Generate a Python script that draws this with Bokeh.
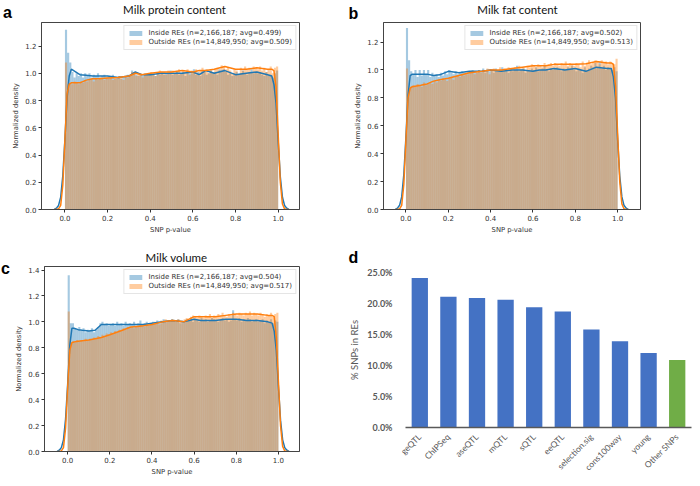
from math import pi
from bokeh.plotting import figure
from bokeh.models import (ColumnDataSource, Label, Legend, LegendItem, FixedTicker,
                          PrintfTickFormatter, Range1d, FactorRange)
from bokeh.layouts import column, row
from bokeh.embed import file_html
from bokeh.resources import INLINE

# ---------------- data ----------------
N_BINS = 100

TITLES = ["Milk protein content", "Milk fat content", "Milk volume"]
LETTERS = ["a", "b", "c", "d"]

IN_LABELS = ["Inside REs (n=2,166,187; avg=0.499)",
             "Inside REs (n=2,166,187; avg=0.502)",
             "Inside REs (n=2,166,187; avg=0.504)"]
OUT_LABELS = ["Outside REs (n=14,849,950; avg=0.509)",
              "Outside REs (n=14,849,950; avg=0.513)",
              "Outside REs (n=14,849,950; avg=0.517)"]

a_in_hist = [1.32, 1.15, 1.08, 1.01, 0.97, 1.00, 0.98, 1.00, 0.97, 1.00,
             0.98, 1.00, 0.97, 0.99, 0.98, 1.00, 0.97, 0.98, 0.99, 0.97,
             0.98, 0.97, 0.99, 0.96, 0.97, 0.98, 0.96, 0.97, 0.98, 0.99,
             0.98, 1.02, 1.01, 0.99, 0.98, 0.99, 0.98, 1.00, 0.99, 0.99,
             1.00, 0.99, 0.98, 1.00, 0.99, 1.01, 0.99, 1.00, 1.00, 1.02,
             0.99, 1.00, 1.01, 0.99, 1.00, 1.01, 0.98, 1.01, 1.00, 1.00,
             1.03, 0.99, 1.01, 0.98, 1.02, 1.01, 0.99, 1.00, 1.02, 1.00,
             1.01, 0.99, 1.03, 1.02, 1.03, 1.01, 0.99, 1.00, 0.98, 1.00,
             1.01, 0.99, 1.00, 1.02, 1.00, 0.99, 1.01, 1.03, 1.00, 1.01,
             1.00, 1.01, 0.99, 0.98, 1.01, 0.98, 0.99, 0.97, 1.00, 1.02]
a_out_hist = [1.08, 0.92, 0.93, 0.92, 0.94, 0.93, 0.92, 0.94, 0.93, 0.95,
              0.94, 0.95, 0.96, 0.94, 0.96, 0.95, 0.97, 0.96, 0.95, 0.97,
              0.96, 0.97, 0.95, 0.97, 0.96, 0.98, 0.97, 0.95, 0.98, 0.97,
              0.99, 1.01, 1.00, 0.98, 0.99, 1.00, 0.97, 0.99, 1.00, 0.99,
              1.01, 1.00, 0.98, 1.01, 1.02, 1.00, 1.01, 0.99, 1.02, 1.01,
              1.02, 1.00, 1.01, 1.03, 1.00, 1.02, 1.01, 1.03, 0.99, 1.02,
              1.01, 1.03, 1.00, 1.02, 1.04, 1.01, 1.03, 1.00, 1.02, 1.01,
              1.03, 1.04, 1.02, 1.06, 1.05, 1.03, 1.04, 1.02, 1.00, 1.03,
              1.02, 0.99, 1.04, 1.02, 1.05, 1.03, 1.04, 1.01, 1.05, 1.04,
              1.03, 1.05, 1.02, 1.04, 1.01, 1.03, 1.05, 1.00, 1.04, 1.05]
b_in_hist = [1.30, 1.07, 0.99, 0.97, 1.00, 0.95, 1.00, 0.96, 1.00, 0.97,
             1.00, 0.95, 0.98, 0.96, 0.97, 0.95, 0.98, 0.96, 0.99, 0.97,
             1.00, 0.98, 0.97, 0.99, 0.97, 0.98, 0.99, 0.98, 0.97, 0.99,
             0.98, 1.00, 0.99, 0.98, 1.00, 0.99, 1.01, 0.98, 1.00, 0.99,
             1.00, 0.98, 1.01, 0.99, 1.00, 1.02, 0.99, 1.00, 0.98, 1.01,
             0.99, 1.00, 1.03, 0.99, 1.00, 1.01, 0.98, 1.00, 0.99, 1.01,
             1.00, 1.02, 0.99, 1.00, 1.01, 1.03, 1.00, 0.99, 1.01, 1.00,
             1.01, 1.02, 1.00, 0.99, 1.01, 1.00, 1.02, 1.01, 1.03, 1.00,
             0.99, 1.01, 1.00, 0.98, 1.02, 1.00, 1.01, 1.03, 1.02, 1.05,
             1.02, 1.06, 1.01, 1.03, 1.00, 1.02, 1.01, 1.00, 1.02, 0.99]
b_out_hist = [1.01, 0.87, 0.88, 0.89, 0.88, 0.90, 0.89, 0.88, 0.91, 0.89,
              0.90, 0.91, 0.90, 0.92, 0.91, 0.93, 0.92, 0.94, 0.93, 0.92,
              0.94, 0.95, 0.93, 0.95, 0.96, 0.95, 0.97, 0.96, 0.98, 0.97,
              0.98, 0.99, 0.97, 0.99, 1.00, 0.98, 1.00, 0.99, 1.01, 0.97,
              1.00, 1.01, 0.99, 1.00, 1.02, 1.00, 1.01, 0.99, 1.02, 1.01,
              1.01, 1.02, 1.00, 1.03, 1.01, 1.02, 0.99, 1.03, 1.02, 1.04,
              1.03, 1.02, 1.04, 1.03, 1.02, 1.05, 1.03, 1.04, 1.05, 1.03,
              1.05, 1.04, 1.03, 1.05, 1.04, 1.06, 1.03, 1.05, 1.04, 1.03,
              1.05, 1.04, 1.02, 1.06, 1.03, 1.05, 1.07, 1.04, 1.05, 1.07,
              1.06, 1.04, 1.07, 1.05, 1.06, 1.04, 1.06, 1.05, 1.04, 1.08]
c_in_hist = [1.36, 0.99, 0.99, 0.95, 0.94, 0.96, 0.93, 0.95, 0.92, 0.94,
             0.93, 0.95, 0.92, 0.94, 0.96, 0.99, 1.00, 0.98, 0.99, 0.97,
             0.98, 0.99, 0.97, 1.00, 0.98, 0.99, 0.97, 1.00, 0.98, 0.99,
             0.98, 1.00, 0.97, 0.99, 1.01, 0.98, 0.99, 1.00, 0.98, 0.99,
             1.00, 0.99, 1.01, 1.00, 0.99, 1.02, 1.00, 1.01, 1.00, 1.02,
             1.01, 1.00, 1.02, 0.99, 1.01, 1.00, 1.02, 1.01, 1.03, 1.00,
             1.02, 1.01, 1.00, 1.03, 1.01, 1.02, 1.00, 1.01, 1.03, 1.02,
             1.01, 1.00, 1.02, 1.03, 1.01, 1.02, 1.00, 1.01, 1.09, 1.02,
             1.01, 1.03, 1.00, 1.02, 1.01, 1.03, 1.02, 1.00, 1.01, 1.02,
             1.00, 1.01, 1.02, 0.99, 1.01, 1.00, 1.02, 0.99, 1.01, 1.00]
c_out_hist = [1.08, 0.84, 0.85, 0.84, 0.86, 0.85, 0.86, 0.85, 0.87, 0.86,
              0.87, 0.86, 0.88, 0.87, 0.89, 0.88, 0.90, 0.89, 0.91, 0.90,
              0.92, 0.91, 0.93, 0.92, 0.94, 0.93, 0.95, 0.94, 0.96, 0.95,
              0.96, 0.95, 0.97, 0.96, 0.98, 0.97, 0.96, 0.98, 0.97, 0.99,
              0.98, 1.00, 0.99, 0.98, 1.01, 1.00, 1.02, 1.00, 1.01, 1.02,
              1.01, 1.00, 1.02, 1.01, 0.99, 1.02, 1.03, 1.01, 1.04, 1.05,
              1.04, 1.03, 1.05, 1.04, 1.03, 1.05, 1.04, 1.06, 1.03, 1.05,
              1.04, 1.06, 1.05, 1.07, 1.05, 1.04, 1.06, 1.05, 1.07, 1.06,
              1.05, 1.07, 1.06, 1.05, 1.07, 1.06, 1.08, 1.05, 1.07, 1.06,
              1.05, 1.07, 1.06, 1.04, 1.06, 1.05, 1.07, 1.04, 1.06, 1.07]

KDE_X = [-0.05, -0.04, -0.03, -0.02, -0.01,
         0.00, 0.01, 0.02, 0.03, 0.05,
         0.07, 0.10, 0.13, 0.16, 0.20,
         0.25, 0.30, 0.33, 0.36, 0.40,
         0.45, 0.50, 0.55, 0.60, 0.63,
         0.66, 0.70, 0.75, 0.80, 0.85,
         0.90, 0.95, 0.97, 0.98, 0.99,
         1.00, 1.01, 1.02, 1.03, 1.04,
         1.05]
a_in_kde = [0.00, 0.01, 0.03, 0.09, 0.25,
            0.52, 0.82, 0.98, 1.03, 1.01,
            0.99, 0.985, 0.98, 0.98, 0.98,
            0.97, 0.98, 1.01, 0.99, 0.99,
            1.00, 1.00, 1.00, 1.01, 0.99,
            1.02, 1.00, 1.02, 0.99, 1.00,
            1.01, 0.99, 0.98, 0.92, 0.78,
            0.50, 0.24, 0.09, 0.03, 0.01,
            0.00]
a_out_kde = [0.00, 0.00, 0.005, 0.03, 0.18,
             0.52, 0.85, 0.92, 0.93, 0.93,
             0.93, 0.95, 0.96, 0.96, 0.965,
             0.97, 0.98, 1.00, 0.99, 1.00,
             1.01, 1.01, 1.02, 1.01, 1.02,
             1.02, 1.03, 1.05, 1.03, 1.03,
             1.04, 1.03, 1.03, 1.02, 0.90,
             0.55, 0.20, 0.04, 0.005, 0.00,
             0.00]
b_in_kde = [0.00, 0.01, 0.03, 0.09, 0.25,
            0.52, 0.82, 0.96, 0.97, 0.97,
            0.97, 0.97, 0.96, 0.965, 0.99,
            0.98, 0.99, 0.99, 0.99, 1.00,
            0.99, 1.00, 1.00, 0.99, 1.00,
            1.00, 1.01, 1.00, 1.01, 0.99,
            1.02, 1.01, 1.01, 0.95, 0.80,
            0.50, 0.24, 0.09, 0.03, 0.01,
            0.00]
b_out_kde = [0.00, 0.00, 0.005, 0.03, 0.18,
             0.50, 0.80, 0.87, 0.88, 0.885,
             0.89, 0.90, 0.92, 0.93, 0.94,
             0.96, 0.98, 0.985, 0.99, 1.00,
             1.00, 1.01, 1.02, 1.03, 1.03,
             1.03, 1.04, 1.04, 1.04, 1.045,
             1.06, 1.05, 1.05, 1.04, 0.88,
             0.54, 0.20, 0.04, 0.005, 0.00,
             0.00]
c_in_kde = [0.00, 0.01, 0.03, 0.09, 0.25,
            0.52, 0.82, 0.95, 0.95, 0.94,
            0.935, 0.93, 0.935, 0.98, 0.98,
            0.98, 0.98, 0.98, 0.98, 0.99,
            1.00, 1.01, 1.00, 1.02, 1.01,
            1.01, 1.01, 1.02, 1.02, 1.01,
            1.01, 1.00, 0.99, 0.93, 0.78,
            0.50, 0.24, 0.09, 0.03, 0.01,
            0.00]
c_out_kde = [0.00, 0.00, 0.005, 0.03, 0.18,
             0.50, 0.78, 0.84, 0.845, 0.85,
             0.855, 0.86, 0.87, 0.88, 0.90,
             0.93, 0.96, 0.965, 0.97, 0.98,
             1.00, 1.01, 1.00, 1.04, 1.04,
             1.04, 1.04, 1.05, 1.06, 1.06,
             1.06, 1.05, 1.05, 1.04, 0.88,
             0.54, 0.20, 0.04, 0.005, 0.00,
             0.00]

HIST_X_TICKS = [0.0, 0.2, 0.4, 0.6, 0.8, 1.0]
HIST_Y_TICKS_AB = [0.0, 0.2, 0.4, 0.6, 0.8, 1.0, 1.2]
HIST_Y_TICKS_C = [0.0, 0.2, 0.4, 0.6, 0.8, 1.0, 1.2, 1.4]

CATEGORIES = ["geQTL", "ChIPSeq", "aseQTL", "mQTL", "sQTL", "eeQTL",
              "selection.sig", "cons100way", "young", "Other SNPs"]
PCT_IN_RES = [24.1, 21.1, 20.9, 20.6, 19.4, 18.7, 15.8, 13.9, 12.0, 10.9]
BAR_COLORS = ["#4472C4"] * 9 + ["#70AD47"]
PCT_TICKS = [0, 5, 10, 15, 20, 25]

# ---------------- styling ----------------
BLUE = "#1f77b4"
ORANGE = "#ff7f0e"
AX = "#333333"
MPL_FONT = "DejaVu Sans"
W = 346
STRIP = 12  # narrow column holding the "c" panel letter


def no_align(p):
    try:
        p.frame_align = False
    except Exception:
        pass


def header(width, height, title=None, title_xy=None, letter=None, letter_xy=None,
           letter_baseline="alphabetic"):
    h = figure(width=width, height=height, x_range=Range1d(0, width),
               y_range=Range1d(0, height), output_backend="svg", toolbar_location=None,
               x_axis_location=None, y_axis_location=None, min_border=0)
    no_align(h)
    h.outline_line_color = None
    h.grid.visible = False
    if title is not None:
        h.add_layout(Label(x=title_xy[0], y=title_xy[1], text=title, text_font="Lato",
                           text_font_size="11.5px", text_color="#111111",
                           text_align="center", text_baseline="middle"))
    if letter is not None:
        h.add_layout(Label(x=letter_xy[0], y=letter_xy[1], text=letter,
                           text_font="Liberation Sans", text_font_style="bold",
                           text_font_size="16px", text_color="#000000",
                           text_align="left", text_baseline=letter_baseline))
    return h


def hist_panel(idx, in_hist, out_hist, in_kde, out_kde, xr, ytop, yticks,
               borders, width, height):
    bl, br, bt, bb = borders
    p = figure(width=width, height=height, x_range=Range1d(*xr), y_range=Range1d(0, ytop),
               output_backend="svg", toolbar_location=None,
               min_border_left=bl, min_border_right=br, min_border_top=bt,
               min_border_bottom=bb)
    no_align(p)
    edges = [i / N_BINS for i in range(N_BINS + 1)]
    src_in = ColumnDataSource(dict(left=edges[:-1], right=edges[1:], top=in_hist))
    src_out = ColumnDataSource(dict(left=edges[:-1], right=edges[1:], top=out_hist))
    # histogram patches first, density lines on top (matplotlib z-order)
    r_in = p.quad(left="left", right="right", top="top", bottom=0, source=src_in,
                  fill_color=BLUE, fill_alpha=0.4, line_color=None)
    r_out = p.quad(left="left", right="right", top="top", bottom=0, source=src_out,
                   fill_color=ORANGE, fill_alpha=0.4, line_color=None)
    p.line(KDE_X, in_kde, line_color=BLUE, line_width=1.5)
    p.line(KDE_X, out_kde, line_color=ORANGE, line_width=1.5)

    p.xgrid.visible = False
    p.ygrid.visible = False
    p.outline_line_color = "#444444"
    p.outline_line_width = 1
    for ax in (p.xaxis[0], p.yaxis[0]):
        ax.axis_line_color = "#444444"
        ax.major_tick_line_color = AX
        ax.major_tick_out = 3
        ax.major_tick_in = 0
        ax.minor_tick_line_color = None
        ax.major_label_text_font = MPL_FONT
        ax.major_label_text_font_size = "7px"
        ax.major_label_text_color = AX
        ax.major_label_standoff = 2
        ax.axis_label_text_font = MPL_FONT
        ax.axis_label_text_font_size = "6.8px"
        ax.axis_label_text_font_style = "normal"
        ax.axis_label_text_color = AX
        ax.axis_label_standoff = 2
    p.xaxis[0].ticker = FixedTicker(ticks=HIST_X_TICKS)
    p.yaxis[0].ticker = FixedTicker(ticks=yticks)
    p.xaxis[0].formatter = PrintfTickFormatter(format="%.1f")
    p.yaxis[0].formatter = PrintfTickFormatter(format="%.1f")
    p.xaxis[0].axis_label = "SNP p-value"
    p.yaxis[0].axis_label = "Normalized density"

    legend = Legend(items=[LegendItem(label=IN_LABELS[idx], renderers=[r_in]),
                           LegendItem(label=OUT_LABELS[idx], renderers=[r_out])],
                    location="top_right")
    legend.label_text_font = MPL_FONT
    legend.label_text_font_size = "7px"
    legend.label_text_color = AX
    legend.glyph_width = 16
    legend.glyph_height = 6
    legend.label_height = 8
    legend.label_standoff = 5
    legend.spacing = 1
    legend.padding = 3
    legend.margin = 3
    legend.border_line_color = "#cccccc"
    legend.background_fill_alpha = 0.8
    p.add_layout(legend)
    return p


ha = header(W, 20, TITLES[0], (174, 11), LETTERS[0], (2.5, 8))
hb = header(W, 20, TITLES[1], (171, 11), LETTERS[1], (2, 7.5))
hc = header(W - STRIP, 29, TITLES[2], (176 - STRIP, 8.5))
strip_c = header(STRIP, 242, letter=LETTERS[2], letter_xy=(0.5, 210.5))
hd = header(W, 30, letter=LETTERS[3], letter_xy=(2, 1), letter_baseline="bottom")

pa = hist_panel(0, a_in_hist, a_out_hist, a_in_kde, a_out_kde, (-0.11, 1.10), 1.373,
                HIST_Y_TICKS_AB, (41, 47, 2, 26), W, 216)
pb = hist_panel(1, b_in_hist, b_out_hist, b_in_kde, b_out_kde, (-0.106, 1.108), 1.34,
                HIST_Y_TICKS_AB, (37, 52, 2, 26), W, 216)
pc = hist_panel(2, c_in_hist, c_out_hist, c_in_kde, c_out_kde, (-0.11, 1.10), 1.427,
                HIST_Y_TICKS_C, (41 - STRIP, 47, 1, 22), W - STRIP, 213)

# ---------------- bar panel ----------------
pd_ = figure(width=W, height=212, x_range=FactorRange(*CATEGORIES, range_padding=0),
             y_range=Range1d(0, 25), output_backend="svg", toolbar_location=None,
             min_border_left=45, min_border_right=1, min_border_top=6, min_border_bottom=49)
no_align(pd_)
src_bar = ColumnDataSource(dict(cat=CATEGORIES, val=PCT_IN_RES, color=BAR_COLORS))
pd_.vbar(x="cat", top="val", width=0.57, bottom=0, source=src_bar,
         fill_color="color", line_color=None)
pd_.outline_line_color = None
pd_.xgrid.visible = False
pd_.ygrid.visible = False
ya = pd_.yaxis[0]
ya.ticker = FixedTicker(ticks=PCT_TICKS)
ya.formatter = PrintfTickFormatter(format="%.1f%%")
ya.axis_line_color = None
ya.major_tick_line_color = None
ya.minor_tick_line_color = None
ya.major_label_text_font = "Lato"
ya.major_label_text_font_style = "bold"
ya.major_label_text_font_size = "9px"
ya.major_label_text_color = "#595959"
ya.major_label_standoff = 7
ya.axis_label = "% SNPs in REs"
ya.axis_label_text_font = "Lato"
ya.axis_label_text_font_size = "9.5px"
ya.axis_label_text_font_style = "normal"
ya.axis_label_text_color = "#595959"
ya.axis_label_standoff = 4
xa = pd_.xaxis[0]
xa.axis_line_color = "#595959"
xa.axis_line_width = 1.3
xa.major_tick_line_color = None
xa.minor_tick_line_color = None
xa.major_label_orientation = pi / 4
xa.major_label_text_font = "Lato"
xa.major_label_text_font_size = "8.5px"
xa.major_label_text_color = "#595959"
xa.major_label_standoff = 2

layout = column(row(column(ha, pa), column(hb, pb)),
                row(strip_c, column(hc, pc), column(hd, pd_)))
open("out.html", "w").write(file_html(layout, INLINE))
